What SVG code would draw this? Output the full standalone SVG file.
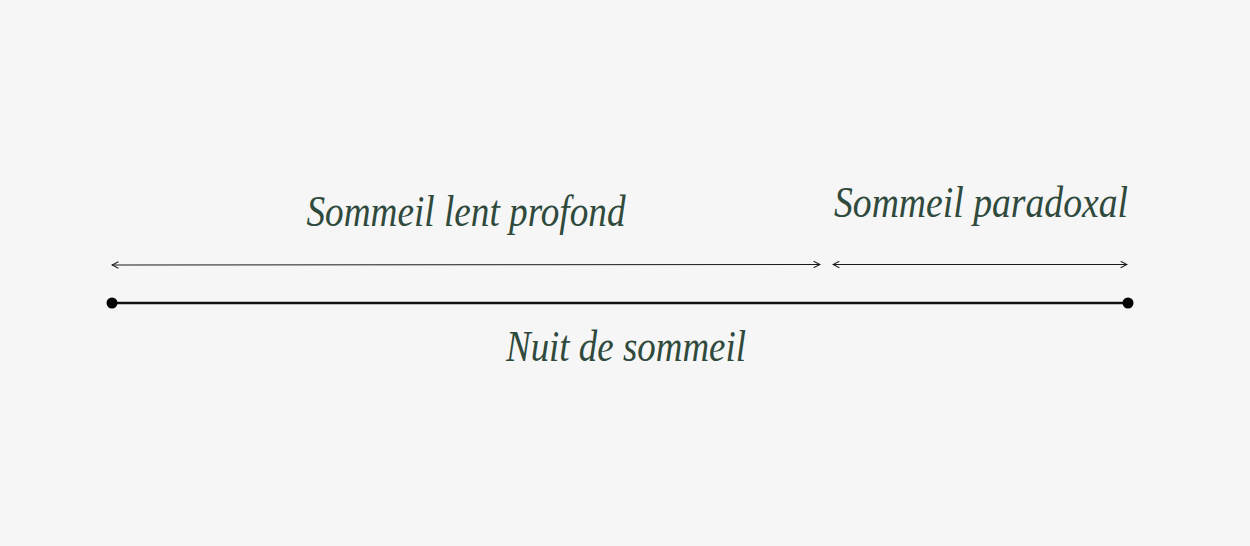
<svg xmlns="http://www.w3.org/2000/svg" width="1250" height="546" viewBox="0 0 1250 546">
<style>
.lbl{font-family:"Liberation Serif","DejaVu Serif",serif;font-style:italic;fill:#2f4a3c;font-size:44px;text-anchor:middle}
.thin{stroke:#1a1a1a;stroke-width:1;fill:none}
.thick{stroke:#111;stroke-width:2.5;fill:none}
</style>
<defs>
<marker id="ah" viewBox="0 0 10 10" refX="9" refY="5" markerWidth="8" markerHeight="8" markerUnits="userSpaceOnUse" orient="auto-start-reverse">
<path d="M1,1 L9,5 L1,9" fill="none" stroke="#1a1a1a" stroke-width="1.3"/>
</marker>
</defs>
<rect width="1250" height="546" fill="#f6f6f6"/>
<g id="connectors">
<line class="thin" x1="112" y1="265" x2="820" y2="264.5" marker-start="url(#ah)" marker-end="url(#ah)"/>
<line class="thin" x1="833" y1="264.5" x2="1127" y2="264.5" marker-start="url(#ah)" marker-end="url(#ah)"/>
<line class="thick" x1="112" y1="303" x2="1128" y2="303"/>
</g>
<g id="night">
<circle cx="112" cy="303" r="5.5" fill="#000"/>
<circle cx="1128" cy="303" r="5.5" fill="#000"/>
<text class="lbl" x="626" y="361" textLength="240" lengthAdjust="spacingAndGlyphs">Nuit de sommeil</text>
</g>
<g id="slow">
<text class="lbl" x="466" y="226" textLength="319" lengthAdjust="spacingAndGlyphs">Sommeil lent profond</text>
</g>
<g id="rem">
<text class="lbl" x="981" y="217" textLength="294" lengthAdjust="spacingAndGlyphs">Sommeil paradoxal</text>
</g>
</svg>
